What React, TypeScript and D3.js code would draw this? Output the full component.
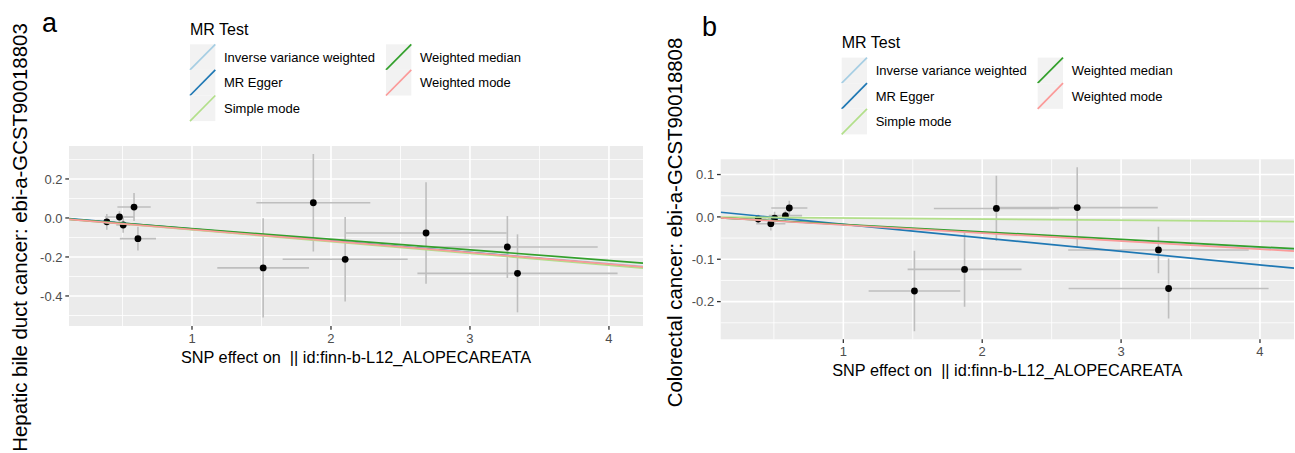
import React from 'react';
import * as d3 from 'd3';

// MR scatter plots, two outcomes, same exposure SNPs
const methods = ['Inverse variance weighted', 'MR Egger', 'Simple mode', 'Weighted median', 'Weighted mode'];
const methodColors = ['#a6cee3', '#1f78b4', '#b2df8a', '#33a02c', '#fb9a99'];

// exposure effects (shared by both panels)
const betaExposure = [0.387, 0.478, 0.505, 0.583, 0.611, 1.512, 1.873, 2.102, 2.684, 3.269, 3.342];
const seExposure = [0.06, 0.105, 0.05, 0.12, 0.13, 0.33, 0.41, 0.45, 0.58, 0.65, 0.72];

// panel a: hepatic bile duct cancer
const betaOutcomeA = [-0.02, 0.005, -0.036, 0.056, -0.106, -0.256, 0.078, -0.212, -0.077, -0.149, -0.284];
const seOutcomeA = [0.04, 0.03, 0.04, 0.072, 0.061, 0.255, 0.25, 0.217, 0.26, 0.159, 0.2];
const interceptsA = [0, 0.004, 0, 0, 0];
const slopesA = [-0.0585, -0.0605, -0.0605, -0.0545, -0.059];
const yTicksA = [-0.4, -0.2, 0, 0.2];
const yMinorA = [-0.5, -0.3, -0.1, 0.1, 0.3];

// panel b: colorectal cancer
const betaOutcomeB = [-0.005, -0.016, -0.003, 0.003, 0.021, -0.175, -0.124, 0.02, 0.022, -0.078, -0.169];
const seOutcomeB = [0.01, 0.016, 0.015, 0.012, 0.017, 0.095, 0.088, 0.077, 0.095, 0.055, 0.071];
const interceptsB = [0, 0.0147, 0, 0, 0];
const slopesB = [-0.0185, -0.032, -0.0026, -0.0177, -0.019];
const yTicksB = [-0.2, -0.1, 0, 0.1];
const yMinorB = [-0.25, -0.15, -0.05, 0.05];

const xTicks = [1, 2, 3, 4];
const xMinor = [0.5, 1.5, 2.5, 3.5];
const xTitle = 'SNP effect on  || id:finn-b-L12_ALOPECAREATA';

const FONT = '"Liberation Sans", Arial, Helvetica, sans-serif';

const Panel = ({ id, left, top, width, height, xDomain, yDomain, yTicks, yMinor, betaOut, seOut, intercepts, slopes, yTitle, yTitleX, yTitleY, tag, tagX, tagY, legendX, legendY }) => {
  const x = d3.scaleLinear().domain(xDomain).range([left, left + width]);
  const y = d3.scaleLinear().domain(yDomain).range([top + height, top]);
  const fmt = (v) => v.toFixed(1);
  const keyW = 25.3;
  const keyH = 25.6;

  return (
    <g>
      <defs>
        <clipPath id={`clip-${id}`}>
          <rect x={left} y={top} width={width} height={height} />
        </clipPath>
      </defs>
      <rect x={left} y={top} width={width} height={height} fill="#EBEBEB" />
      {xMinor.map((t) => (
        <line key={'xm' + t} x1={x(t)} x2={x(t)} y1={top} y2={top + height} stroke="#fff" strokeWidth={0.8} />
      ))}
      {yMinor.map((t) => (
        <line key={'ym' + t} x1={left} x2={left + width} y1={y(t)} y2={y(t)} stroke="#fff" strokeWidth={0.8} />
      ))}
      {xTicks.map((t) => (
        <line key={'x' + t} x1={x(t)} x2={x(t)} y1={top} y2={top + height} stroke="#fff" strokeWidth={1.6} />
      ))}
      {yTicks.map((t) => (
        <line key={'y' + t} x1={left} x2={left + width} y1={y(t)} y2={y(t)} stroke="#fff" strokeWidth={1.6} />
      ))}

      <g clipPath={`url(#clip-${id})`}>
        {betaExposure.map((bx, i) => (
          <g key={'e' + i} stroke="#BEBEBE" strokeWidth={1.6}>
            <line x1={x(bx)} x2={x(bx)} y1={y(betaOut[i] - seOut[i])} y2={y(betaOut[i] + seOut[i])} />
            <line x1={x(bx - seExposure[i])} x2={x(bx + seExposure[i])} y1={y(betaOut[i])} y2={y(betaOut[i])} />
          </g>
        ))}
        {betaExposure.map((bx, i) => (
          <circle key={'p' + i} cx={x(bx)} cy={y(betaOut[i])} r={3.4} fill="#000" />
        ))}
        {methods.map((m, i) => (
          <line
            key={m}
            x1={x(xDomain[0])}
            x2={x(xDomain[1])}
            y1={y(intercepts[i] + slopes[i] * xDomain[0])}
            y2={y(intercepts[i] + slopes[i] * xDomain[1])}
            stroke={methodColors[i]}
            strokeWidth={1.7}
          />
        ))}
      </g>

      {/* axes */}
      {xTicks.map((t) => (
        <g key={'xt' + t}>
          <line x1={x(t)} x2={x(t)} y1={top + height} y2={top + height + 3.7} stroke="#333" strokeWidth={1.3} />
          <text x={x(t)} y={top + height + 16.5} textAnchor="middle" fontSize={13} fill="#4D4D4D" fontFamily={FONT}>{t}</text>
        </g>
      ))}
      {yTicks.map((t) => (
        <g key={'yt' + t}>
          <line x1={left - 3.7} x2={left} y1={y(t)} y2={y(t)} stroke="#333" strokeWidth={1.3} />
          <text x={left - 6.5} y={y(t) + 4.6} textAnchor="end" fontSize={13} fill="#4D4D4D" fontFamily={FONT}>{fmt(t)}</text>
        </g>
      ))}
      <text x={left + width / 2} y={top + height + 36.5} textAnchor="middle" fontSize={16.3} fill="#000" fontFamily={FONT} style={{ whiteSpace: 'pre' }}>{xTitle}</text>
      <text transform={`translate(${yTitleX},${yTitleY}) rotate(-90)`} textAnchor="middle" fontSize={20.4} fill="#000" fontFamily={FONT}>{yTitle}</text>
      <text x={tagX} y={tagY} fontSize={27} fill="#000" fontFamily={FONT}>{tag}</text>

      {/* legend */}
      <g transform={`translate(${legendX},${legendY})`} fontFamily={FONT}>
        <text x={0} y={0} fontSize={16} fill="#000">MR Test</text>
        {methods.map((m, i) => {
          const col = i < 3 ? 0 : 1;
          const row = i < 3 ? i : i - 3;
          const kx = col === 0 ? 0 : 196;
          const ky = 9.3 + row * keyH;
          return (
            <g key={'lg' + m} transform={`translate(${kx},${ky})`}>
              <rect x={0} y={0} width={keyW} height={keyH} fill="#F2F2F2" />
              <line x1={0} y1={keyH} x2={keyW} y2={0} stroke={methodColors[i]} strokeWidth={1.7} />
              <text x={34} y={keyH / 2 + 4.8} fontSize={13} fill="#000">{m}</text>
            </g>
          );
        })}
      </g>
    </g>
  );
};

export default function App() {
  return (
    <div style={{ position: 'absolute', left: 0, top: 0 }}>
      <svg width={1295} height={453} style={{ display: 'block', background: '#fff' }}>
        <Panel
          id="a"
          left={69}
          top={146}
          width={574}
          height={180}
          xDomain={[0.115, 4.245]}
          yDomain={[-0.554, 0.369]}
          yTicks={yTicksA}
          yMinor={yMinorA}
          betaOut={betaOutcomeA}
          seOut={seOutcomeA}
          intercepts={interceptsA}
          slopes={slopesA}
          yTitle="Hepatic bile duct cancer: ebi-a-GCST90018803"
          yTitleX={27}
          yTitleY={237.5}
          tag="a"
          tagX={42}
          tagY={32}
          legendX={190}
          legendY={35}
        />
        <Panel
          id="b"
          left={720.7}
          top={159.3}
          width={573.3}
          height={180}
          xDomain={[0.117, 4.245]}
          yDomain={[-0.289, 0.136]}
          yTicks={yTicksB}
          yMinor={yMinorB}
          betaOut={betaOutcomeB}
          seOut={seOutcomeB}
          intercepts={interceptsB}
          slopes={slopesB}
          yTitle="Colorectal cancer: ebi-a-GCST90018808"
          yTitleX={682}
          yTitleY={222.5}
          tag="b"
          tagX={702}
          tagY={36}
          legendX={841.7}
          legendY={48.3}
        />
      </svg>
    </div>
  );
}
